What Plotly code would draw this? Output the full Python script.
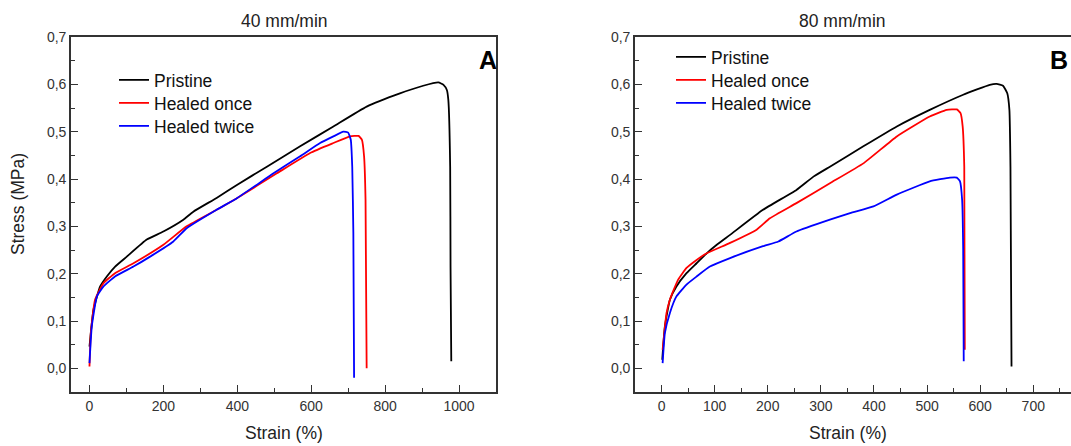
import plotly.graph_objects as go

# ---------------- Data ----------------
# Panel A: 40 mm/min
a_pristine_x = [0, 10.8, 28.9, 46.9, 69.4, 101, 155, 200, 254, 281, 344, 400, 480, 570, 660, 750, 840, 903, 944, 958, 967, 971, 976, 977, 979]
a_pristine_y = [0.046, 0.124, 0.173, 0.194, 0.215, 0.236, 0.272, 0.289, 0.314, 0.331, 0.360, 0.388, 0.426, 0.469, 0.511, 0.553, 0.581, 0.597, 0.604, 0.599, 0.588, 0.567, 0.426, 0.215, 0.015]

a_once_x = [0, 3.6, 15, 38, 69, 119, 200, 263, 344, 400, 507, 597, 660, 705, 728, 737, 743, 747, 750]
a_once_y = [0.004, 0.075, 0.145, 0.180, 0.201, 0.222, 0.261, 0.300, 0.335, 0.360, 0.412, 0.455, 0.476, 0.490, 0.491, 0.483, 0.448, 0.356, 0.0]

a_twice_x = [0, 6.3, 20, 38, 69, 119, 164, 227, 263, 344, 400, 498, 570, 624, 660, 687, 700, 707, 711, 714, 716]
a_twice_y = [0.011, 0.089, 0.152, 0.173, 0.194, 0.215, 0.236, 0.268, 0.296, 0.335, 0.360, 0.412, 0.448, 0.476, 0.490, 0.500, 0.498, 0.483, 0.426, 0.286, -0.02]

# Panel B: 80 mm/min
b_pristine_x = [1.3, 6.3, 15.7, 28, 47, 66, 85, 104, 129, 191, 254, 286, 317, 380, 443, 505, 568, 618, 631, 643, 651, 655, 657, 659]
b_pristine_y = [0.018, 0.089, 0.145, 0.173, 0.201, 0.222, 0.243, 0.261, 0.282, 0.335, 0.377, 0.405, 0.426, 0.469, 0.511, 0.546, 0.578, 0.599, 0.601, 0.597, 0.581, 0.546, 0.426, 0.004]

b_once_x = [2, 9.4, 15.7, 31, 47, 66, 85, 129, 179, 204, 254, 317, 380, 443, 505, 537, 556, 563, 567, 570, 571]
b_once_y = [0.039, 0.117, 0.145, 0.187, 0.212, 0.229, 0.243, 0.265, 0.293, 0.317, 0.349, 0.391, 0.433, 0.490, 0.532, 0.546, 0.547, 0.539, 0.511, 0.426, 0.039]

b_twice_x = [2, 6.3, 15.7, 28, 47, 66, 91, 129, 191, 220, 254, 317, 355, 399, 443, 505, 543, 556, 562, 566, 568, 569]
b_twice_y = [0.011, 0.075, 0.117, 0.152, 0.177, 0.194, 0.215, 0.233, 0.258, 0.268, 0.289, 0.314, 0.328, 0.342, 0.367, 0.395, 0.403, 0.403, 0.395, 0.356, 0.250, 0.015]

series_names = ["Pristine", "Healed once", "Healed twice"]
series_colors = ["#000000", "#ff0000", "#0000ff"]

y_tickvals = [0.0, 0.1, 0.2, 0.3, 0.4, 0.5, 0.6, 0.7]
y_ticktext = ["0,0", "0,1", "0,2", "0,3", "0,4", "0,5", "0,6", "0,7"]
a_x_tickvals = [0, 200, 400, 600, 800, 1000]
b_x_tickvals = [0, 100, 200, 300, 400, 500, 600, 700]

panel_titles = ["40 mm/min", "80 mm/min"]
panel_letters = ["A", "B"]

# ---------------- Figure ----------------
W, H = 1071, 446
FONT = "Liberation Sans, Arial, sans-serif"
AX = "#333333"
TXT = "#222222"
LEG_FONT = dict(family=FONT, size=17.5, color="#111111")

def px_x(p):
    return p / W

def px_y(p):
    return 1 - p / H

fig = go.Figure()

panel_a = [(a_pristine_x, a_pristine_y), (a_once_x, a_once_y), (a_twice_x, a_twice_y)]
panel_b = [(b_pristine_x, b_pristine_y), (b_once_x, b_once_y), (b_twice_x, b_twice_y)]

# one legend per entry so rows sit at the reference spacing
legend_layout = {}
leg_idx = 1
for panel, (xa, ya), leg_left, first_row in [(panel_a, ("x", "y"), 114, 80), (panel_b, ("x2", "y2"), 671, 57)]:
    for i, ((xs, ys), name, col) in enumerate(zip(panel, series_names, series_colors)):
        key = "legend" if leg_idx == 1 else "legend%d" % leg_idx
        fig.add_trace(go.Scatter(x=xs, y=ys, mode="lines", name=name,
                                 line=dict(color=col, width=1.8, shape="spline", smoothing=0.4),
                                 xaxis=xa, yaxis=ya, legend=key))
        row_center = first_row + 23 * i
        legend_layout[key] = dict(x=px_x(leg_left), y=px_y(row_center - 18), xanchor="left", yanchor="top",
                                  bgcolor="rgba(0,0,0,0)", borderwidth=0, font=LEG_FONT)
        leg_idx += 1

common_axis = dict(showline=True, linewidth=1.6, linecolor=AX, ticks="inside",
                   ticklen=7, tickwidth=1.4, tickcolor=AX, showgrid=False, zeroline=False,
                   automargin=False,
                   tickfont=dict(family=FONT, size=14, color="#333333"))

y_common = dict(common_axis, range=[-0.05, 0.7], tickvals=y_tickvals, ticktext=y_ticktext,
                minor=dict(ticks="inside", ticklen=4, tickwidth=1.2, tickcolor=AX, dtick=0.05, tick0=0, showgrid=False))

fig.update_layout(
    width=W, height=H, autosize=False,
    margin=dict(l=0, r=0, t=0, b=0, pad=0, autoexpand=False),
    paper_bgcolor="white", plot_bgcolor="white",
    showlegend=True,
    xaxis=dict(common_axis, domain=[px_x(71), px_x(496)], range=[-50, 1100], tickvals=a_x_tickvals,
               mirror=True, anchor="y",
               minor=dict(ticks="inside", ticklen=4, tickwidth=1.2, tickcolor=AX, dtick=100, tick0=0, showgrid=False)),
    yaxis=dict(y_common, domain=[px_y(392), px_y(37)], anchor="x", mirror=True),
    xaxis2=dict(common_axis, domain=[px_x(635), 1.0], range=[-50, 771], tickvals=b_x_tickvals,
                mirror=True, anchor="y2",
                minor=dict(ticks="inside", ticklen=4, tickwidth=1.2, tickcolor=AX, dtick=50, tick0=0, showgrid=False)),
    yaxis2=dict(y_common, domain=[px_y(392), px_y(37)], anchor="x2", mirror=False),
    **legend_layout,
)

annots = []
# panel titles
annots.append(dict(text=panel_titles[0], x=px_x(284), y=px_y(21), xref="paper", yref="paper",
                   showarrow=False, xanchor="center", yanchor="middle",
                   font=dict(family=FONT, size=17.5, color=TXT)))
annots.append(dict(text=panel_titles[1], x=px_x(842), y=px_y(21), xref="paper", yref="paper",
                   showarrow=False, xanchor="center", yanchor="middle",
                   font=dict(family=FONT, size=17.5, color=TXT)))
# axis titles
annots.append(dict(text="Strain (%)", x=px_x(284), y=px_y(433), xref="paper", yref="paper",
                   showarrow=False, xanchor="center", yanchor="middle",
                   font=dict(family=FONT, size=17.5, color=TXT)))
annots.append(dict(text="Strain (%)", x=px_x(848), y=px_y(433), xref="paper", yref="paper",
                   showarrow=False, xanchor="center", yanchor="middle",
                   font=dict(family=FONT, size=17.5, color=TXT)))
annots.append(dict(text="Stress (MPa)", x=px_x(18), y=px_y(204), xref="paper", yref="paper",
                   showarrow=False, xanchor="center", yanchor="middle", textangle=-90,
                   font=dict(family=FONT, size=17.5, color=TXT)))
# panel letters
annots.append(dict(text="<b>%s</b>" % panel_letters[0], x=px_x(488), y=px_y(60), xref="paper", yref="paper",
                   showarrow=False, xanchor="center", yanchor="middle",
                   font=dict(family=FONT, size=25, color="#000000")))
annots.append(dict(text="<b>%s</b>" % panel_letters[1], x=px_x(1059), y=px_y(60), xref="paper", yref="paper",
                   showarrow=False, xanchor="center", yanchor="middle",
                   font=dict(family=FONT, size=25, color="#000000")))
fig.update_layout(annotations=annots)

fig.write_html("out.html",
               config={"displayModeBar": False},
               post_script="document.body.style.margin='0';document.body.style.padding='0';"
                           "document.documentElement.style.overflow='hidden';")
